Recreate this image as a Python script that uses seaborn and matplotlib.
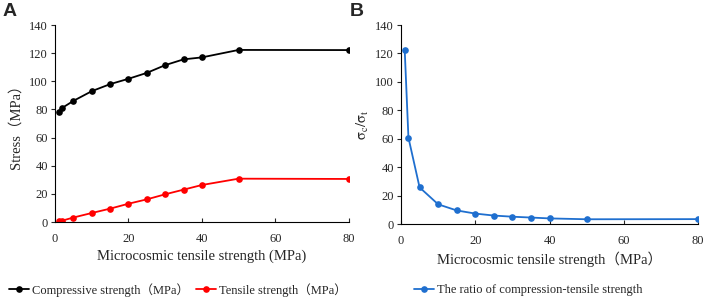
import matplotlib
matplotlib.use("Agg")
import matplotlib.pyplot as plt
import seaborn as sns
import pandas as pd

# 微观抗拉强度 (MPa)
tensile_micro = [1, 2, 5, 10, 15, 20, 25, 30, 35, 40, 50, 80]
# 宏观抗压强度 / 抗拉强度 (MPa)
compressive = [78.3, 81.2, 86.1, 93.0, 98.0, 101.8, 106.0, 111.5, 115.6, 117.0, 122.3, 122.2]
tensile = [0.6, 1.0, 3.2, 6.4, 9.5, 13.0, 16.1, 19.7, 23.0, 26.3, 30.8, 30.6]
# 压拉比
ratio = [122.2, 60.8, 25.8, 13.9, 9.6, 7.4, 6.0, 5.2, 4.6, 4.0, 3.4, 3.5]

df = pd.DataFrame({"x": tensile_micro, "comp": compressive,
                   "tens": tensile, "ratio": ratio})

sns.set_theme(style="ticks")
serif = ["Liberation Serif", "Noto Sans CJK SC"]
plt.rcParams["font.family"] = serif
plt.rcParams["mathtext.fontset"] = "stix"

fig = plt.figure(figsize=(7.06, 2.98), dpi=100)
ax1 = fig.add_axes([0.078, 0.255, 0.416, 0.661])
ax2 = fig.add_axes([0.568, 0.248, 0.421, 0.668])

kw = dict(marker="o", markersize=4.8, markeredgewidth=0, linewidth=1.3)
sns.lineplot(data=df, x="x", y="comp", ax=ax1, color="black",
             label="Compressive strength（MPa）", **kw)
sns.lineplot(data=df, x="x", y="tens", ax=ax1, color="#ff0000",
             label="Tensile strength（MPa）", **kw)
sns.lineplot(data=df, x="x", y="ratio", ax=ax2, color="#1f6fcf",
             label="The ratio of compression-tensile strength", **kw)

for ax in (ax1, ax2):
    ax.set_xlim(0, 80)
    ax.set_ylim(0, 140)
    ax.set_xticks([0, 20, 40, 60, 80])
    ax.set_yticks(range(0, 141, 20))
    sns.despine(ax=ax)
    for s in ("left", "bottom"):
        ax.spines[s].set_linewidth(0.8)
        ax.spines[s].set_color("black")
    ax.tick_params(axis="x", direction="in", length=3, width=0.8, labelsize=9, pad=8)
    ax.tick_params(axis="y", direction="out", length=3, width=0.8, labelsize=9, pad=2)
    ax.get_legend().remove()

ax1.set_xlabel("Microcosmic tensile strength (MPa)", fontsize=10.5, labelpad=3)
ax1.set_ylabel("Stress（MPa）", fontsize=10.5, labelpad=5)
ax2.set_xlabel("Microcosmic tensile strength（MPa）", fontsize=10.5, labelpad=3)
ax2.set_ylabel(r"$\mathrm{\sigma_c/\sigma_t}$", fontsize=10.5, labelpad=3)

h1, l1 = ax1.get_legend_handles_labels()
fig.legend(h1, l1, loc="center", bbox_to_anchor=(0.252, 0.027), ncol=2,
           frameon=False, fontsize=9, handlelength=1.6, handletextpad=0.2,
           columnspacing=0.6, borderaxespad=0)
h2, l2 = ax2.get_legend_handles_labels()
fig.legend(h2, l2, loc="center", bbox_to_anchor=(0.748, 0.027), ncol=1,
           frameon=False, fontsize=9, handlelength=1.6, handletextpad=0.2,
           borderaxespad=0)

fig.text(0.003, 0.99, "A", fontsize=14, fontweight="bold", va="top",
         family="Liberation Sans")
fig.text(0.496, 0.99, "B", fontsize=14, fontweight="bold", va="top",
         family="Liberation Sans")

fig.savefig("out.png", dpi=100)
